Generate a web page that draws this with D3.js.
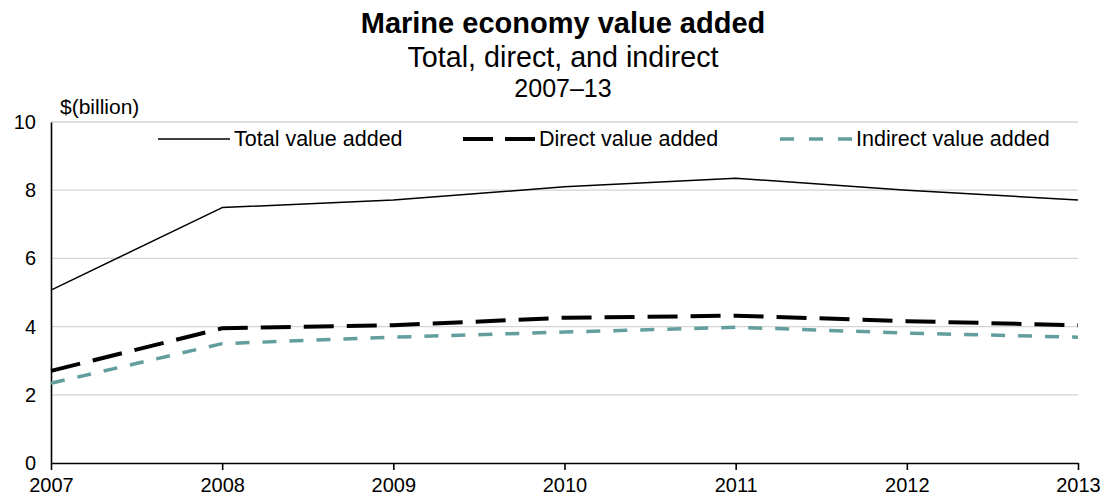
<!DOCTYPE html>
<html>
<head>
<meta charset="utf-8">
<script src="https://cdn.jsdelivr.net/npm/d3@7"></script>
<style>
  html, body { margin: 0; padding: 0; background: #fff; }
  svg { display: block; font-family: "Liberation Sans", Arial, sans-serif; }
</style>
</head>
<body>
<svg id="chart" width="1108" height="501"></svg>
<script>
// Marine economy value added, $ billion
const years = [2007, 2008, 2009, 2010, 2011, 2012, 2013];
const totalValue = [5.07, 7.49, 7.71, 8.10, 8.35, 8.00, 7.71];
const directValue = [2.70, 3.95, 4.04, 4.26, 4.32, 4.16, 4.04];
const indirectValue = [2.34, 3.50, 3.69, 3.84, 3.98, 3.81, 3.69];
const yTicks = [0, 2, 4, 6, 8, 10];
const seriesNames = ["Total value added", "Direct value added", "Indirect value added"];

const svg = d3.select("#chart");
const margin = { left: 51, right: 30, top: 122, bottom: 38 };
const W = 1108, H = 501;

const x = d3.scaleLinear().domain([2007, 2013]).range([margin.left, W - margin.right]);
const y = d3.scaleLinear().domain([0, 10]).range([H - margin.bottom, margin.top]);

// Titles
const cx = 563;
svg.append("text").attr("x", cx).attr("y", 33).attr("text-anchor", "middle")
  .attr("font-size", 29).attr("font-weight", "bold").attr("fill", "#000")
  .text("Marine economy value added");
svg.append("text").attr("x", cx).attr("y", 67).attr("text-anchor", "middle")
  .attr("font-size", 28.7).attr("fill", "#000").text("Total, direct, and indirect");
svg.append("text").attr("x", cx).attr("y", 97).attr("text-anchor", "middle")
  .attr("font-size", 25).attr("fill", "#000").text("2007\u201313");

// Unit label
svg.append("text").attr("x", 60).attr("y", 114).attr("font-size", 21)
  .attr("fill", "#000").text("$(billion)");

// Gridlines
svg.append("g").selectAll("line").data(yTicks.filter(d => d > 0)).join("line")
  .attr("x1", x(2007)).attr("x2", x(2013))
  .attr("y1", d => y(d)).attr("y2", d => y(d))
  .attr("stroke", "#d4d4d4").attr("stroke-width", 1.3);

// Y axis
const yAxis = svg.append("g").attr("transform", `translate(${x(2007)},0)`)
  .call(d3.axisLeft(y).tickValues(yTicks).tickSize(0).tickPadding(15));
yAxis.select(".domain").attr("stroke", "#000").attr("stroke-width", 1.6);
yAxis.selectAll("text").attr("font-size", 20).attr("fill", "#000")
  .attr("font-family", "Liberation Sans, Arial, sans-serif");

// X axis
const xAxis = svg.append("g").attr("transform", `translate(0,${y(0)})`)
  .call(d3.axisBottom(x).tickValues(years).tickFormat(d3.format("d"))
    .tickSizeInner(7).tickSizeOuter(0).tickPadding(8));
xAxis.select(".domain").attr("stroke", "#000").attr("stroke-width", 1.6);
xAxis.selectAll(".tick line").attr("stroke", "#000").attr("stroke-width", 1.6);
xAxis.selectAll("text").attr("font-size", 20).attr("fill", "#000")
  .attr("font-family", "Liberation Sans, Arial, sans-serif");

// Series
const styles = [
  { values: totalValue, color: "#000", width: 1.5, dash: null },
  { values: directValue, color: "#000", width: 4, dash: "30,13" },
  { values: indirectValue, color: "#639e9e", width: 3.5, dash: "14,13" }
];
const line = d3.line().x((d, i) => x(years[i])).y(d => y(d));

svg.append("g").selectAll("path").data(styles).join("path")
  .attr("d", s => line(s.values))
  .attr("fill", "none")
  .attr("stroke", s => s.color)
  .attr("stroke-width", s => s.width)
  .attr("stroke-dasharray", s => s.dash)
  .attr("stroke-linejoin", "round");

// Legend
const legendX = [158, 463, 780];
const legendY = 139;
const legend = svg.append("g").selectAll("g").data(styles).join("g")
  .attr("transform", (s, i) => `translate(${legendX[i]},${legendY})`);
legend.append("line")
  .attr("x1", 0).attr("x2", 72)
  .attr("y1", 0).attr("y2", 0)
  .attr("stroke", s => s.color)
  .attr("stroke-width", s => s.width)
  .attr("stroke-dasharray", (s, i) => i === 1 ? "30,12" : i === 2 ? "14,15" : null);
legend.append("text")
  .attr("x", 76).attr("y", 7)
  .attr("font-size", 21.5).attr("fill", "#000")
  .text((s, i) => seriesNames[i]);
</script>
</body>
</html>
